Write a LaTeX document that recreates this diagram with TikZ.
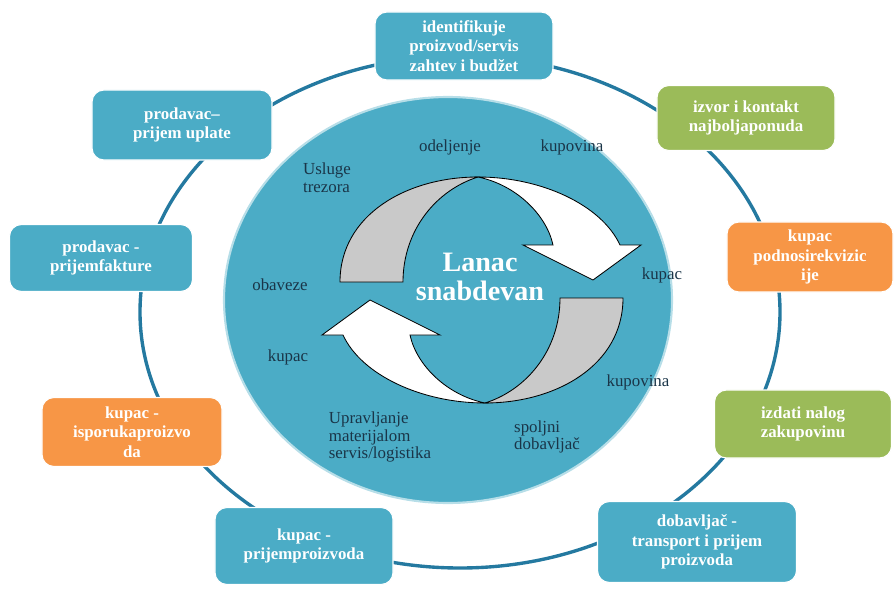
\documentclass[tikz,border=0pt]{standalone}
\usepackage{fontspec}
\setmainfont{Liberation Serif}
\usepackage{tikz}
\usetikzlibrary{positioning}

\definecolor{boxteal}{HTML}{4BACC6}
\definecolor{boxgreen}{HTML}{9BBB59}
\definecolor{boxorange}{HTML}{F79646}
\definecolor{ringline}{HTML}{2479A0}
\definecolor{innerfill}{HTML}{4BACC6}
\definecolor{labelcol}{HTML}{1A3548}
\definecolor{backgray}{HTML}{C9C9C9}

\begin{document}
\begin{tikzpicture}[x=0.025cm,y=0.025cm,
    box/.style={draw=white,line width=0.8pt,rounded corners=0.3cm,fill=#1,
      text=white,font=\bfseries\fontsize{12}{14}\selectfont,align=center,inner sep=2pt},
    lbl/.style={text=labelcol,font=\fontsize{12}{12.5}\selectfont,align=left,inner sep=0pt},
    back/.style={draw=black,line width=0.6pt,fill=backgray},
    face/.style={draw=black,line width=0.6pt,fill=white}]
  \useasboundingbox (0,0) rectangle (896,588);

  \draw[ringline,line width=2.4pt] (460,276) ellipse [x radius=320,y radius=256];
  \filldraw[fill=innerfill,draw=white!60!innerfill,line width=1.5pt] (448,288) ellipse [x radius=224,y radius=203];

  % two twisted arrows, the second one turned half round
  \foreach \r in {0,180}{
    \begin{scope}[shift={(481.5,298)},rotate=\r]
      \filldraw[back] (-141.5,8) -- (-78.5,8)
        .. controls (-78.5,60) and (-45,100) .. (-3.5,113)
        .. controls (-75,113) and (-141.5,75) .. cycle;
      \filldraw[face] (-3.5,113) .. controls (60,113) and (120,85) .. (138.5,45)
        -- (159.5,45) -- (111.5,10) -- (41.5,45) -- (71.5,45)
        .. controls (65,75) and (35,105) .. cycle;
    \end{scope}
  }

  \node[text=white,font=\bfseries\fontsize{20}{21}\selectfont,align=center] (lanac) at (480,311) {Lanac\\snabdevan};

  \node[lbl] (odeljenje) at (450,441) {odeljenje};
  \node[lbl] (kupovina1) at (572,441) {kupovina};
  \node[lbl] (trezor) at (327,410) {Usluge\\trezora};
  \node[lbl] (obaveze) at (280,303) {obaveze};
  \node[lbl] (kupac1) at (288,231) {kupac};
  \node[lbl] (kupac2) at (662,313) {kupac};
  \node[lbl] (kupovina2) at (638,206) {kupovina};
  \node[lbl] (logistika) at (380,151) {Upravljanje\\materijalom\\servis/logistika};
  \node[lbl] (dobavljac) at (547,151) {spoljni\\dobavljač};

  \node[box=boxteal,minimum width=4.45cm,minimum height=1.7cm] (zahtev) at (464,542) {identifikuje\\proizvod/servis\\zahtev i budžet};
  \node[box=boxgreen,minimum width=4.45cm,minimum height=1.625cm] (izvor) at (746,470) {izvor i kontakt\\najboljaponuda};
  \node[box=boxorange,minimum width=4.15cm,minimum height=1.75cm] (rekvizicija) at (810,331) {kupac\\podnosirekvizic\\ije};
  \node[box=boxgreen,minimum width=4.425cm,minimum height=1.7cm] (nalog) at (803,164) {izdati nalog\\zakupovinu};
  \node[box=boxteal,minimum width=4.975cm,minimum height=2.025cm] (transport) at (697,46) {dobavljač -\\transport i prijem\\proizvoda};
  \node[box=boxteal,minimum width=4.45cm,minimum height=1.925cm] (prijem) at (304,42) {kupac -\\prijemproizvoda};
  \node[box=boxorange,minimum width=4.5cm,minimum height=1.725cm] (isporuka) at (132,156) {kupac -\\isporukaproizvo\\da};
  \node[box=boxteal,minimum width=4.575cm,minimum height=1.675cm] (faktura) at (101,330) {prodavac -\\prijemfakture};
  \node[box=boxteal,minimum width=4.5cm,minimum height=1.75cm] (uplata) at (182,463) {prodavac--\\prijem uplate};
\end{tikzpicture}
\end{document}
